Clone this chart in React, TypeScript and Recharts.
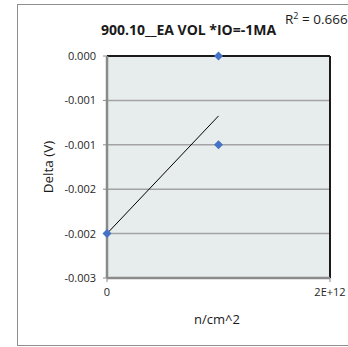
import React from 'react';
import { CartesianGrid, ReferenceLine, Scatter, ScatterChart, XAxis, YAxis } from 'recharts';

const fluence = [0, 1e12, 1e12];
const delta = [-0.0024, 0, -0.0012];

const trendX = [0, 1e12];
const trendY = [-0.0024, -0.00081];

const yTicks = [0, -0.0006, -0.0012, -0.0018, -0.0024, -0.003];
const yTickLabels = ['0.000', '-0.001', '-0.001', '-0.002', '-0.002', '-0.003'];
const xTicks = [0, 2e12];
const xTickLabels = ['0', '2E+12'];

const points = fluence.map((x, i) => ({ x, y: delta[i] }));
const trend = trendX.map((x, i) => ({ x, y: trendY[i] }));

const font = '"Open Sans", "Liberation Sans", sans-serif';

function Diamond(props: any) {
  const { cx, cy } = props;
  if (cx == null || cy == null) return <g />;
  const r = 4.5;
  return (
    <path
      d={`M${cx},${cy - r}L${cx + r},${cy}L${cx},${cy + r}L${cx - r},${cy}Z`}
      fill="#4472c4"
    />
  );
}

export default function App() {
  return (
    <div
      style={{
        position: 'absolute',
        left: 0,
        top: 0,
        width: 348,
        height: 347,
        overflow: 'hidden',
        background: '#fff',
        fontFamily: font,
      }}
    >
      <div
        style={{
          position: 'absolute',
          left: 17,
          top: 4,
          width: 400,
          height: 340,
          border: '1px solid #8e8e8e',
        }}
      />
      <div style={{ position: 'absolute', left: 0, top: 0 }}>
        <ScatterChart width={348} height={347} margin={{ top: 56, right: 18, bottom: 39, left: 0 }}>
          <CartesianGrid
            vertical={false}
            fill="#e7ecec"
            stroke="#a3a3a3"
            strokeWidth={1.5}
            horizontalValues={yTicks}
          />
          <XAxis
            type="number"
            dataKey="x"
            domain={[0, 2e12]}
            ticks={xTicks}
            tickFormatter={(v: number) => xTickLabels[xTicks.indexOf(v)]}
            height={30}
            axisLine={{ stroke: '#8a8a8a', strokeWidth: 2.5 }}
            tickLine={{ stroke: '#8a8a8a' }}
            tickSize={4}
            tickMargin={6}
            tick={{ fontSize: 11, fill: '#262626', fontFamily: font }}
            interval={0}
          />
          <YAxis
            type="number"
            dataKey="y"
            domain={[-0.003, 0]}
            ticks={yTicks}
            tickFormatter={(v: number) => yTickLabels[yTicks.indexOf(v)]}
            width={107}
            axisLine={{ stroke: '#8a8a8a', strokeWidth: 2.5 }}
            tickLine={{ stroke: '#8a8a8a' }}
            tickSize={4}
            tickMargin={7}
            tick={{ fontSize: 11, fill: '#262626', fontFamily: font }}
            interval={0}
          />
          <ReferenceLine y={0} stroke="#1a1a1a" strokeWidth={2} />
          <ReferenceLine x={2e12} stroke="#1a1a1a" strokeWidth={2} />
          <Scatter
            data={trend}
            line={{ stroke: '#000', strokeWidth: 1 }}
            shape={() => <g />}
            isAnimationActive={false}
          />
          <Scatter data={points} shape={Diamond} isAnimationActive={false} />
        </ScatterChart>
      </div>
      <div
        style={{
          position: 'absolute',
          left: 0,
          width: 377,
          top: 21,
          textAlign: 'center',
          fontSize: 14,
          fontWeight: 700,
          color: '#1a1a1a',
          lineHeight: '18px',
          whiteSpace: 'nowrap',
        }}
      >
        900.10__EA VOL *IO=-1MA
      </div>
      <div
        style={{
          position: 'absolute',
          left: 285,
          top: 10,
          fontSize: 13.5,
          color: '#1a1a1a',
          whiteSpace: 'nowrap',
          lineHeight: '18px',
        }}
      >
        R<sup style={{ fontSize: 9, verticalAlign: '5px', lineHeight: 0 }}>2</sup> = 0.6667
      </div>
      <div
        style={{
          position: 'absolute',
          left: 48 - 40,
          width: 80,
          top: 167 - 9,
          textAlign: 'center',
          fontSize: 13.5,
          color: '#1a1a1a',
          lineHeight: '18px',
          transform: 'rotate(-90deg)',
        }}
      >
        Delta (V)
      </div>
      <div
        style={{
          position: 'absolute',
          left: 217 - 50,
          width: 100,
          top: 310,
          textAlign: 'center',
          fontSize: 13,
          color: '#1a1a1a',
          lineHeight: '18px',
        }}
      >
        n/cm^2
      </div>
    </div>
  );
}
